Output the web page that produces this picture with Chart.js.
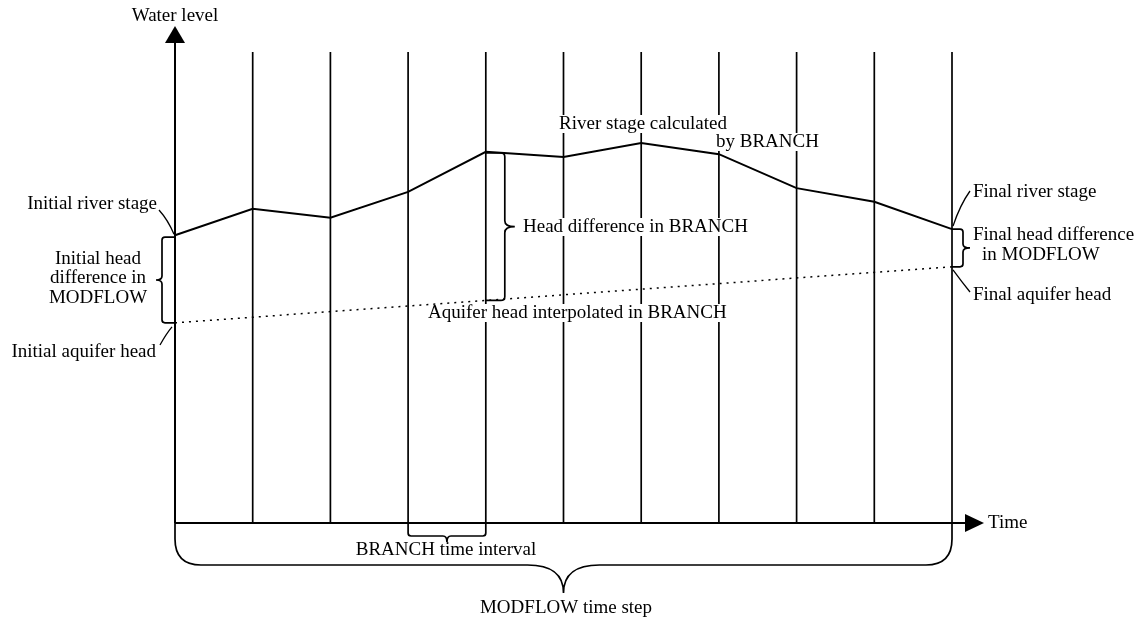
<!DOCTYPE html>
<html>
<head>
<meta charset="utf-8">
<script src="https://cdn.jsdelivr.net/npm/chart.js@4.4.1/dist/chart.umd.min.js"></script>
<style>
  body { margin: 0; background: #fff; }
  canvas { display: block; }
</style>
</head>
<body>
<canvas id="myChart" width="1139" height="619"></canvas>
<script>
// time steps of BRANCH inside one MODFLOW step
const timeSteps = [0, 1, 2, 3, 4, 5, 6, 7, 8, 9, 10];
// river stage calculated by BRANCH (water level units)
const riverStage = [61.1, 66.7, 64.8, 70.3, 78.8, 77.7, 80.7, 78.3, 71.1, 68.2, 62.4];
// aquifer head, only start and end of the MODFLOW step
const aquiferTimes = [0, 10];
const aquiferHead = [42.5, 54.4];

const FONT = '19px "Liberation Serif", "DejaVu Serif", serif';

function brace(ctx, ax, ay, bx, by, arm, tip, r, c) {
  const L = Math.hypot(bx - ax, by - ay);
  ctx.save();
  ctx.translate(ax, ay);
  ctx.rotate(Math.atan2(by - ay, bx - ax));
  ctx.beginPath();
  ctx.moveTo(0, 0);
  ctx.lineTo(0, arm - r);
  ctx.quadraticCurveTo(0, arm, r, arm);
  ctx.lineTo(L / 2 - c, arm);
  ctx.quadraticCurveTo(L / 2, arm, L / 2, tip);
  ctx.moveTo(L, 0);
  ctx.lineTo(L, arm - r);
  ctx.quadraticCurveTo(L, arm, L - r, arm);
  ctx.lineTo(L / 2 + c, arm);
  ctx.quadraticCurveTo(L / 2, arm, L / 2, tip);
  ctx.stroke();
  ctx.restore();
}

function label(ctx, txt, x, y, align, bg) {
  ctx.font = FONT;
  ctx.textAlign = align || 'left';
  ctx.textBaseline = 'middle';
  if (bg) {
    const w = ctx.measureText(txt).width;
    let lx = x;
    if (align === 'center') lx = x - w / 2;
    if (align === 'right') lx = x - w;
    ctx.fillStyle = '#fff';
    ctx.fillRect(lx - 2, y - 9, w + 4, 18);
  }
  ctx.fillStyle = '#000';
  ctx.fillText(txt, x, y);
}

function leader(ctx, x1, y1, cx, cy, x2, y2) {
  ctx.beginPath();
  ctx.moveTo(x1, y1);
  ctx.quadraticCurveTo(cx, cy, x2, y2);
  ctx.stroke();
}

const diagram = {
  id: 'diagram',
  beforeDatasetsDraw(chart) {
    const { ctx, chartArea: a, scales: { x, y } } = chart;
    ctx.save();
    ctx.strokeStyle = '#000';
    // vertical lines at every BRANCH time step
    ctx.lineWidth = 1.7;
    timeSteps.forEach((t, i) => {
      if (i === 0) return;
      const px = x.getPixelForValue(t);
      ctx.beginPath();
      ctx.moveTo(px, a.top);
      ctx.lineTo(px, a.bottom);
      ctx.stroke();
    });

    // labels with white background cut the lines
    label(ctx, 'River stage calculated', 643, 124, 'center', true);
    label(ctx, 'by BRANCH', 716, 142, 'left', true);
    label(ctx, 'Head difference in BRANCH', 523, 227, 'left', true);
    label(ctx, 'Aquifer head interpolated in BRANCH', 428, 313, 'left', true);
    ctx.restore();
  },
  afterDatasetsDraw(chart) {
    const { ctx, chartArea: a, scales: { x, y } } = chart;
    ctx.save();
    ctx.strokeStyle = '#000';
    ctx.fillStyle = '#000';

    // axes with arrows
    const x0 = x.getPixelForValue(timeSteps[0]);
    const xEnd = x.getPixelForValue(timeSteps[timeSteps.length - 1]);
    ctx.lineWidth = 2;
    ctx.beginPath();
    ctx.moveTo(x0, a.bottom);
    ctx.lineTo(x0, 40);
    ctx.moveTo(x0, a.bottom);
    ctx.lineTo(966, a.bottom);
    ctx.stroke();
    ctx.beginPath();
    ctx.moveTo(x0, 26);
    ctx.lineTo(x0 - 10, 43);
    ctx.lineTo(x0 + 10, 43);
    ctx.closePath();
    ctx.fill();
    ctx.beginPath();
    ctx.moveTo(984, a.bottom);
    ctx.lineTo(965, a.bottom - 9);
    ctx.lineTo(965, a.bottom + 9);
    ctx.closePath();
    ctx.fill();

    // braces
    const aq = (t) => {
      const p0 = y.getPixelForValue(aquiferHead[0]);
      const p1 = y.getPixelForValue(aquiferHead[1]);
      return p0 + (p1 - p0) * (t - aquiferTimes[0]) / (aquiferTimes[1] - aquiferTimes[0]);
    };
    ctx.lineWidth = 1.7;
    const r0 = y.getPixelForValue(riverStage[0]);
    const rEnd = y.getPixelForValue(riverStage[riverStage.length - 1]);
    brace(ctx, x0, r0 + 2, x0, aq(0), 13, 19, 3, 4);
    const x3 = x.getPixelForValue(timeSteps[3]);
    const x4 = x.getPixelForValue(timeSteps[4]);
    brace(ctx, x4, aq(timeSteps[4]), x4, y.getPixelForValue(riverStage[4]) + 1, 19, 29, 4, 6);
    brace(ctx, xEnd, aq(timeSteps[10]), xEnd, rEnd, 11, 18, 3, 4);
    brace(ctx, x3, a.bottom, x4, a.bottom, 13, 19, 3, 4);
    brace(ctx, x0, a.bottom, xEnd, a.bottom, 42, 70, 26, 36);

    // leader lines
    ctx.lineWidth = 1.3;
    leader(ctx, 159, 210, 168, 220, x0 - 1, r0 - 1);
    leader(ctx, x0 - 3, aq(0) + 4, 166, 334, 160, 345);
    leader(ctx, xEnd + 1, rEnd - 3, 960, 205, 970, 191);
    leader(ctx, xEnd + 1, aq(10) + 3, 962, 282, 970, 292);

    // texts
    label(ctx, 'Water level', x0, 16, 'center');
    label(ctx, 'Time', 988, a.bottom, 'left');
    label(ctx, 'Initial river stage', 157, 204, 'right');
    label(ctx, 'Initial head', 98, 259, 'center');
    label(ctx, 'difference in', 98, 278, 'center');
    label(ctx, 'MODFLOW', 98, 298, 'center');
    label(ctx, 'Initial aquifer head', 156, 352, 'right');
    label(ctx, 'Final river stage', 973, 192, 'left');
    label(ctx, 'Final head difference', 973, 235, 'left');
    label(ctx, 'in MODFLOW', 982, 255, 'left');
    label(ctx, 'Final aquifer head', 973, 295, 'left');
    label(ctx, 'BRANCH time interval', 446, 550, 'center');
    label(ctx, 'MODFLOW time step', 566, 608, 'center');
    ctx.restore();
  }
};

const ctx = document.getElementById('myChart');

new Chart(ctx, {
  type: 'line',
  data: {
    datasets: [
      {
        label: 'River stage',
        data: timeSteps.map((t, i) => ({ x: t, y: riverStage[i] })),
        borderColor: '#000',
        borderWidth: 2,
        pointRadius: 0,
        tension: 0,
        clip: false
      },
      {
        label: 'Aquifer head',
        data: aquiferTimes.map((t, i) => ({ x: t, y: aquiferHead[i] })),
        borderColor: '#000',
        borderWidth: 1.5,
        borderDash: [2, 5],
        pointRadius: 0,
        tension: 0,
        clip: false
      }
    ]
  },
  options: {
    responsive: false,
    animation: false,
    layout: { padding: { left: 175, right: 187, top: 52, bottom: 96 } },
    plugins: { legend: { display: false }, tooltip: { enabled: false } },
    scales: {
      x: { type: 'linear', min: 0, max: 10, display: false },
      y: { min: 0, max: 100, display: false }
    }
  },
  plugins: [diagram]
});
</script>
</body>
</html>
